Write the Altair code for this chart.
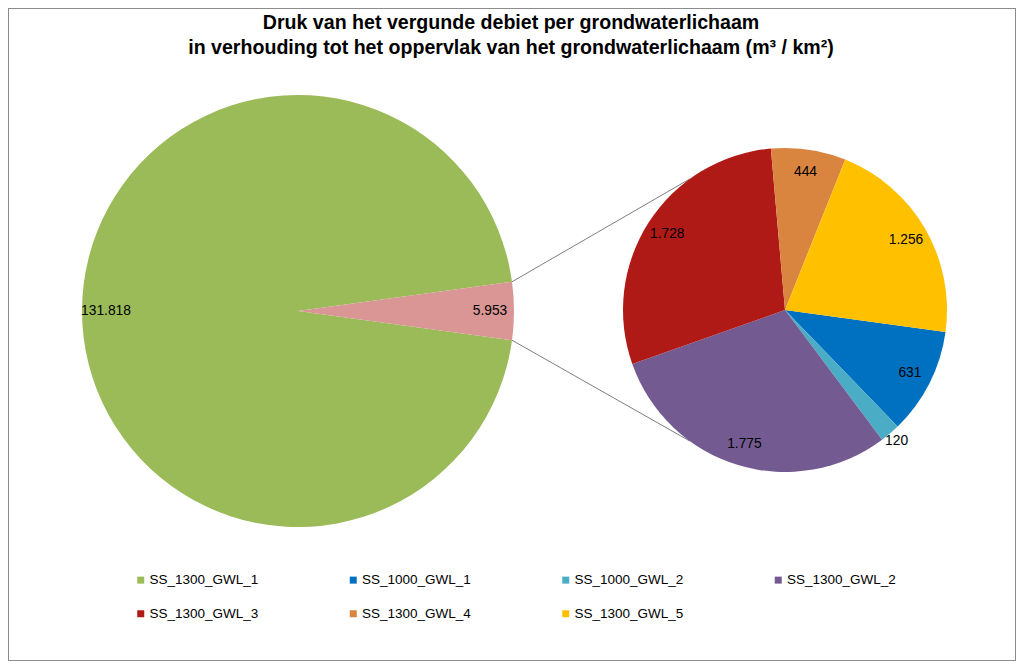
import math
import altair as alt
import pandas as pd

# ---------------- data ----------------
series = ["SS_1300_GWL_1", "SS_1000_GWL_1", "SS_1000_GWL_2", "SS_1300_GWL_2",
          "SS_1300_GWL_3", "SS_1300_GWL_4", "SS_1300_GWL_5"]
values = [131818, 631, 120, 1775, 1728, 444, 1256]
colors = ["#9BBB59", "#0070C0", "#4BACC6", "#735B92", "#B01A16", "#D9843F", "#FFC000"]
other_name = "Overig"
other_value = 5953
other_color = "#D99694"
title_lines = ["Druk van het vergunde debiet per grondwaterlichaam",
               "in verhouding tot het oppervlak van het grondwaterlichaam (m³ / km²)"]

FONT = "Liberation Sans"


def fmt(v):
    return f"{v:,}".replace(",", ".")


# ---------------- tables ----------------
main_df = pd.DataFrame({"name": [series[0], other_name],
                        "value": [values[0], other_value],
                        "idx": [0, 1]})
main_df["label"] = main_df["value"].map(fmt)

sec_df = pd.DataFrame({"name": series[1:], "value": values[1:], "idx": list(range(len(series) - 1))})
sec_df["label"] = sec_df["value"].map(fmt)
sec_df["label_in"] = [l if v >= 200 else "" for l, v in zip(sec_df["label"], sec_df["value"])]
sec_df["label_out"] = [l if v < 200 else "" for l, v in zip(sec_df["label"], sec_df["value"])]

# ---------------- layout (view coordinates) ----------------
W, H = 1008, 653
main_cx, main_cy, main_r = 290, 303, 216
sec_cx, sec_cy, sec_r = 777, 302, 162

main_total = values[0] + other_value
sec_total = sum(values[1:])
frac = other_value / main_total
start = math.pi / 2 + math.pi * frac

main_theta = alt.Scale(domain=[0, main_total], range=[start, start + 2 * math.pi])
sec_theta = alt.Scale(domain=[0, sec_total], range=[start, start + 2 * math.pi])

color_scale = alt.Scale(domain=series + [other_name], range=colors + [other_color])
legend = alt.Legend(values=series, orient="none", legendX=126, legendY=565,
                    direction="horizontal", columns=4, gridAlign="all",
                    columnPadding=87.5, rowPadding=19, symbolType="square",
                    symbolSize=49, symbolStrokeWidth=0, labelFont=FONT,
                    labelFontSize=13.5, labelColor="#000000", labelOffset=2,
                    title=None, padding=0, labelLimit=0)
color = alt.Color("name:N", scale=color_scale, legend=legend)

# connector lines
a1 = math.pi / 2 - math.pi * frac
a2 = math.pi / 2 + math.pi * frac
b = math.radians(36)
lines_df = pd.DataFrame({
    "x": [main_cx + main_r * math.sin(a1), main_cx + main_r * math.sin(a2)],
    "y": [main_cy - main_r * math.cos(a1), main_cy - main_r * math.cos(a2)],
    "x2": [sec_cx - sec_r * math.sin(b), sec_cx - sec_r * math.sin(b)],
    "y2": [sec_cy - sec_r * math.cos(b), sec_cy + sec_r * math.cos(b)],
})

main_base = alt.Chart(main_df).encode(
    theta=alt.Theta("value:Q", stack=True, scale=main_theta),
    order=alt.Order("idx:Q", sort="ascending"),
    x=alt.value(main_cx), y=alt.value(main_cy),
)
main_arc = main_base.mark_arc(radius=main_r, stroke=None).encode(color=color)
main_txt = main_base.mark_text(radius=192, font=FONT, fontSize=13.8, color="#000000").encode(
    text="label:N")

sec_base = alt.Chart(sec_df).encode(
    theta=alt.Theta("value:Q", stack=True, scale=sec_theta),
    order=alt.Order("idx:Q", sort="ascending"),
    x=alt.value(sec_cx), y=alt.value(sec_cy),
)
sec_arc = sec_base.mark_arc(radius=sec_r, stroke=None).encode(color=color)
sec_txt_in = sec_base.mark_text(radius=140, font=FONT, fontSize=13.8, color="#000000").encode(
    text="label_in:N")
sec_txt_out = sec_base.mark_text(radius=172, font=FONT, fontSize=13.8, color="#000000").encode(
    text="label_out:N")

rules = alt.Chart(lines_df).mark_rule(color="#7F7F7F", strokeWidth=1).encode(
    x=alt.X("x:Q", scale=None), y=alt.Y("y:Q", scale=None),
    x2="x2:Q", y2="y2:Q")

title = alt.Chart(pd.DataFrame({"k": [0]})).mark_text(
    font=FONT, fontSize=19.6, fontWeight="bold", color="#000000",
    align="center", baseline="alphabetic", lineHeight=25,
).encode(x=alt.value(503), y=alt.value(21), text=alt.value(title_lines))

chart = alt.layer(
    rules, main_arc, sec_arc, main_txt, sec_txt_in, sec_txt_out, title
).resolve_scale(theta="independent").properties(
    width=W, height=H, padding=0, autosize=alt.AutoSizeParams(type="none"),
    background="white",
).configure_view(stroke="#8C8C8C", strokeWidth=2)

chart.save("out.html", embed_options={"renderer": "svg", "actions": False})
